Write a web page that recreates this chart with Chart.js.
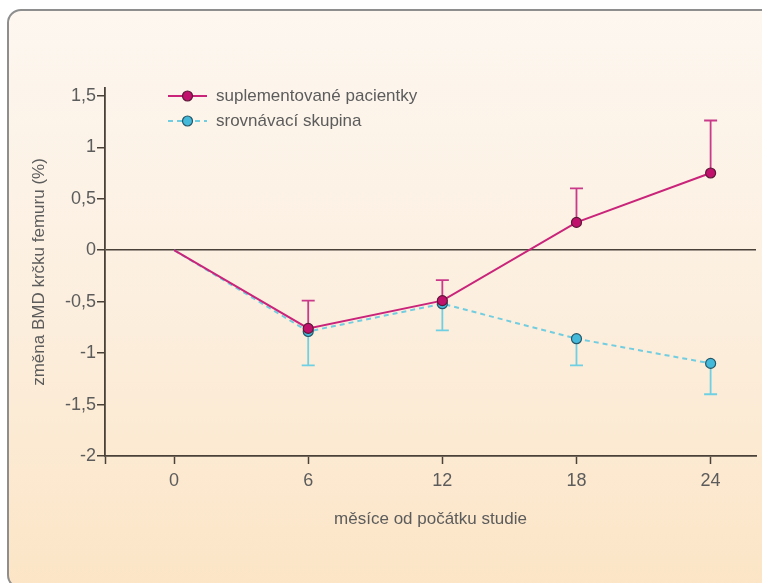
<!DOCTYPE html>
<html><head><meta charset="utf-8">
<script src="https://cdn.jsdelivr.net/npm/chart.js@4.4.1/dist/chart.umd.min.js"></script>
<style>
html,body{margin:0;padding:0;width:762px;height:583px;overflow:hidden;background:#fff;}
#panel{position:absolute;left:7px;top:9px;width:790px;height:580px;box-sizing:border-box;border:2px solid #8e8e8e;border-radius:14px;background:linear-gradient(to bottom,#fdf7f0 0%,#fcefdf 50%,#fce5c6 100%);}
#wrap{position:absolute;left:0;top:0;width:762px;height:583px;}
</style></head><body>
<div id="panel"></div>
<div id="wrap"><canvas id="c" width="762" height="583"></canvas></div>
<script>
// ---- data ----
const months = [0, 6, 12, 18, 24];
const supplemented = [0, -0.76, -0.49, 0.27, 0.75];
const supplementedErrUpper = [null, -0.49, -0.29, 0.60, 1.26];
const comparison = [0, -0.79, -0.52, -0.86, -1.10];
const comparisonErrLower = [null, -1.12, -0.78, -1.12, -1.40];
const seriesLabels = ['suplementované pacientky', 'srovnávací skupina'];
const xTicks = [0, 6, 12, 18, 24];
const xTickLabels = ['0', '6', '12', '18', '24'];
const yTicks = [-2, -1.5, -1, -0.5, 0, 0.5, 1, 1.5];
const yTickLabels = ['-2', '-1,5', '-1', '-0,5', '0', '0,5', '1', '1,5'];
const xTitle = 'měsíce od počátku studie';
const yTitle = 'změna BMD krčku femuru (%)';

const FONT = 'Liberation Sans, Arial, sans-serif';
const AXIS = '#4a4138';
const TXT = '#5c5c5c';
const X_MIN = -3.09, X_MAX = 26.03, Y_MIN = -2, Y_MAX = 1.576;

const errorBars = {
  id: 'errorBars',
  beforeDatasetsDraw(chart) {
    const {ctx, scales: {x, y}} = chart;
    const sets = [
      {vals: supplemented, err: supplementedErrUpper, color: '#c93a8a'},
      {vals: comparison, err: comparisonErrLower, color: '#6fd0e3'}
    ];
    ctx.save();
    sets.forEach(s => {
      ctx.strokeStyle = s.color;
      ctx.lineWidth = 1.8;
      s.err.forEach((e, i) => {
        if (e === null) return;
        const px = x.getPixelForValue(months[i]);
        const p1 = y.getPixelForValue(s.vals[i]);
        const p2 = y.getPixelForValue(e);
        ctx.beginPath();
        ctx.moveTo(px, p1); ctx.lineTo(px, p2);
        ctx.moveTo(px - 6.5, p2); ctx.lineTo(px + 6.5, p2);
        ctx.stroke();
      });
    });
    ctx.restore();
  }
};

const legendPlugin = {
  id: 'customLegend',
  afterDraw(chart) {
    const {ctx} = chart;
    const rows = [96, 121];
    ctx.save();
    chart.data.datasets.forEach((ds, i) => {
      const yy = rows[i];
      ctx.strokeStyle = ds.borderColor;
      ctx.lineWidth = ds.borderWidth;
      ctx.setLineDash(ds.borderDash || []);
      ctx.beginPath(); ctx.moveTo(168, yy); ctx.lineTo(207, yy); ctx.stroke();
      ctx.setLineDash([]);
      ctx.beginPath(); ctx.arc(187.5, yy, 5, 0, Math.PI * 2);
      ctx.fillStyle = ds.pointBackgroundColor; ctx.fill();
      ctx.lineWidth = ds.pointBorderWidth; ctx.strokeStyle = ds.pointBorderColor; ctx.stroke();
      ctx.fillStyle = TXT;
      ctx.font = '17px ' + FONT;
      ctx.textBaseline = 'middle';
      ctx.textAlign = 'left';
      ctx.fillText(ds.label, 216, yy);
    });
    ctx.restore();
  }
};

new Chart(document.getElementById('c'), {
  type: 'line',
  data: {
    datasets: [
      {
        label: seriesLabels[0],
        data: months.map((m, i) => ({x: m, y: supplemented[i]})),
        borderColor: '#c9237a', borderWidth: 2,
        pointBackgroundColor: '#c0126c', pointBorderColor: '#5e1838', pointBorderWidth: 1.2,
        pointRadius: [0, 5, 5, 5, 5], tension: 0
      },
      {
        label: seriesLabels[1],
        data: months.map((m, i) => ({x: m, y: comparison[i]})),
        borderColor: '#72cde0', borderWidth: 2, borderDash: [5, 4],
        pointBackgroundColor: '#45b9d9', pointBorderColor: '#24586a', pointBorderWidth: 1.2,
        pointRadius: [0, 5, 5, 5, 5], tension: 0
      }
    ]
  },
  options: {
    responsive: false, animation: false, devicePixelRatio: 1,
    layout: {padding: {top: 88, right: 6, left: 0, bottom: 0}, autoPadding: false},
    plugins: {legend: {display: false}, tooltip: {enabled: false}},
    scales: {
      x: {
        type: 'linear', min: X_MIN, max: X_MAX,
        afterBuildTicks: s => { s.ticks = [{value: X_MIN}].concat(xTicks.map(v => ({value: v}))); },
        afterFit: s => { s.height = 127; },
        grid: {drawOnChartArea: false, drawTicks: true, tickLength: 8, tickColor: AXIS, tickWidth: 1.5},
        border: {display: true, color: AXIS, width: 1.8},
        ticks: {
          autoSkip: false, maxRotation: 0, padding: 6, color: TXT, font: {family: FONT, size: 18},
          callback: v => { const k = xTicks.indexOf(v); return k >= 0 ? xTickLabels[k] : ''; }
        },
        title: {display: true, text: xTitle, color: TXT, font: {family: FONT, size: 17}, padding: {top: 0, bottom: 53.8}}
      },
      y: {
        type: 'linear', min: Y_MIN, max: Y_MAX,
        afterBuildTicks: s => { s.ticks = yTicks.map(v => ({value: v})); },
        afterFit: s => { s.width = 105; },
        grid: {
          drawOnChartArea: true, drawTicks: true, tickLength: 8, tickColor: AXIS, tickWidth: 1.5,
          color: c => (c.tick && c.tick.value === 0) ? AXIS : 'rgba(0,0,0,0)', lineWidth: 1.5
        },
        border: {display: true, color: AXIS, width: 1.8},
        ticks: {
          autoSkip: false, padding: 1, color: TXT, font: {family: FONT, size: 18},
          callback: v => { const k = yTicks.indexOf(v); return k >= 0 ? yTickLabels[k] : ''; }
        },
        title: {display: true, text: yTitle, color: TXT, font: {family: FONT, size: 17}, padding: {top: 28.8, bottom: 0}}
      }
    }
  },
  plugins: [errorBars, legendPlugin]
});
</script>
</body></html>
